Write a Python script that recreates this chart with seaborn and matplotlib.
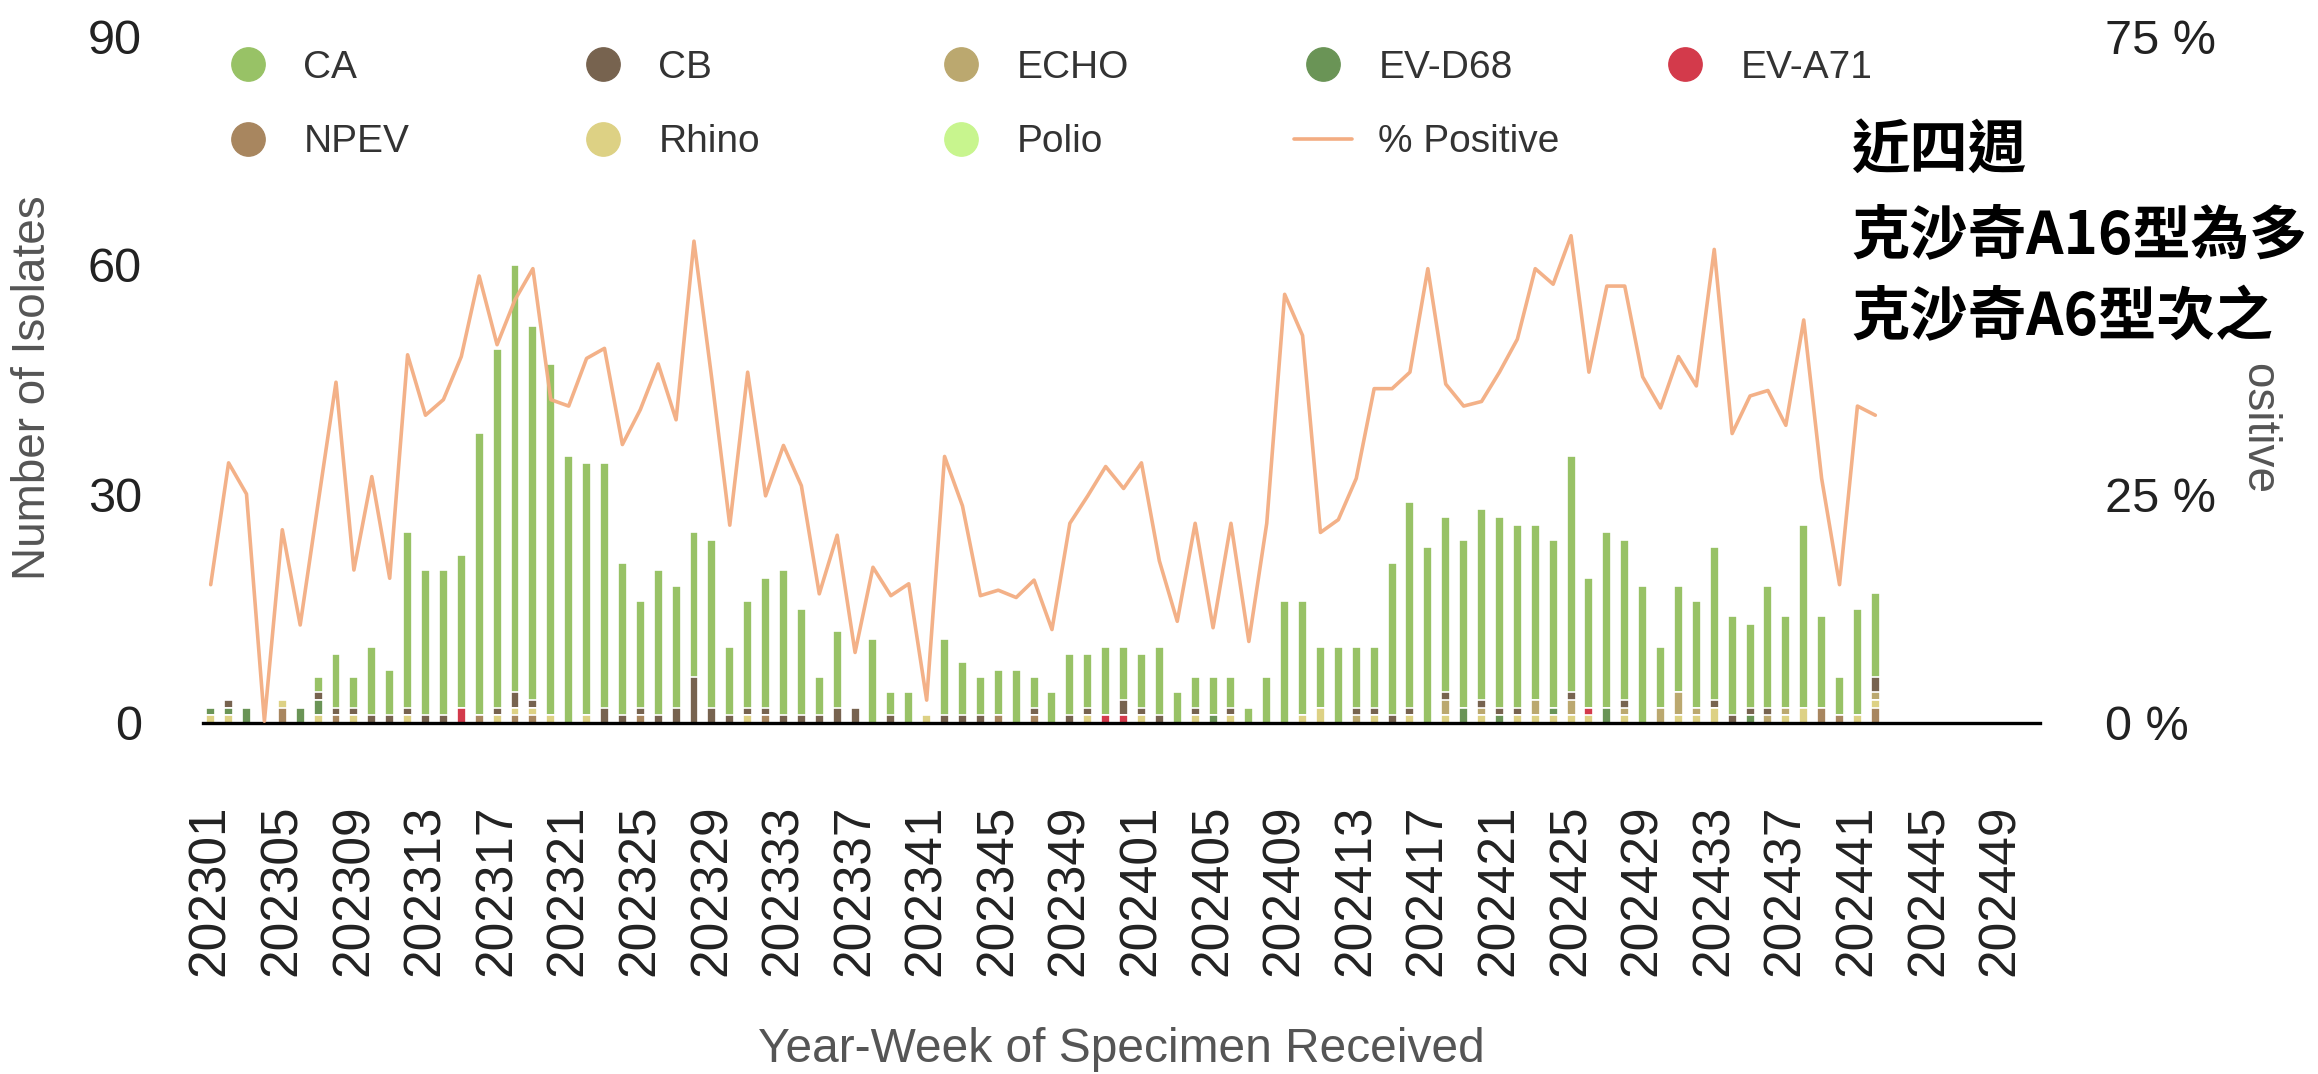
import numpy as np
import pandas as pd
import matplotlib
matplotlib.use("Agg")
import matplotlib.pyplot as plt
from matplotlib.lines import Line2D
from matplotlib.patches import Rectangle
import seaborn as sns

# year-week categories (2023-01 .. 2024-52)
weeks = [f"2023{w:02d}" for w in range(1, 53)] + [f"2024{w:02d}" for w in range(1, 53)]

# isolates per week (202301 .. 202442)
ca = [0, 0, 0, 0, 0, 0, 2, 7, 4, 9,
      6, 23, 19, 19, 20, 37, 47, 56, 49, 46,
      35, 33, 32, 20, 14, 19, 16, 19, 22, 9,
      14, 17, 19, 14, 5, 10, 0, 11, 3, 4,
      0, 10, 7, 5, 6, 7, 4, 4, 8, 7,
      9, 7, 7, 9, 4, 4, 5, 4, 2, 6,
      16, 15, 8, 10, 8, 8, 20, 27, 23, 23,
      22, 25, 25, 24, 23, 22, 31, 17, 23, 21,
      18, 8, 14, 14, 20, 13, 11, 16, 12, 24,
      12, 5, 14, 11]
cb = [0, 1, 0, 0, 0, 0, 1, 1, 1, 1,
      1, 1, 1, 1, 0, 0, 1, 2, 1, 0,
      0, 0, 2, 1, 1, 1, 2, 6, 2, 1,
      1, 1, 1, 1, 1, 2, 2, 0, 1, 0,
      0, 1, 1, 1, 0, 0, 1, 0, 1, 1,
      0, 2, 1, 1, 0, 1, 0, 1, 0, 0,
      0, 0, 0, 0, 1, 1, 1, 1, 0, 1,
      0, 1, 1, 1, 0, 0, 1, 0, 0, 1,
      0, 0, 0, 0, 1, 1, 1, 1, 0, 0,
      0, 0, 0, 2]
echo = [0, 0, 0, 0, 0, 0, 0, 0, 0, 0,
        0, 0, 0, 0, 0, 0, 0, 0, 0, 0,
        0, 0, 0, 0, 0, 0, 0, 0, 0, 0,
        0, 0, 0, 0, 0, 0, 0, 0, 0, 0,
        0, 0, 0, 0, 0, 0, 0, 0, 0, 0,
        0, 0, 0, 0, 0, 0, 0, 0, 0, 0,
        0, 0, 0, 0, 1, 0, 0, 0, 0, 2,
        0, 1, 0, 0, 2, 0, 2, 0, 0, 1,
        0, 2, 3, 1, 0, 0, 0, 1, 1, 0,
        0, 0, 0, 1]
evd68 = [1, 1, 2, 0, 0, 2, 2, 0, 0, 0,
         0, 0, 0, 0, 0, 0, 0, 0, 0, 0,
         0, 0, 0, 0, 0, 0, 0, 0, 0, 0,
         0, 0, 0, 0, 0, 0, 0, 0, 0, 0,
         0, 0, 0, 0, 0, 0, 0, 0, 0, 0,
         0, 0, 0, 0, 0, 0, 1, 0, 0, 0,
         0, 0, 0, 0, 0, 0, 0, 0, 0, 0,
         2, 0, 1, 0, 0, 1, 0, 0, 2, 0,
         0, 0, 0, 0, 0, 0, 1, 0, 0, 0,
         0, 0, 0, 0]
eva71 = [0, 0, 0, 0, 0, 0, 0, 0, 0, 0,
         0, 0, 0, 0, 2, 0, 0, 0, 0, 0,
         0, 0, 0, 0, 0, 0, 0, 0, 0, 0,
         0, 0, 0, 0, 0, 0, 0, 0, 0, 0,
         0, 0, 0, 0, 0, 0, 0, 0, 0, 0,
         1, 1, 0, 0, 0, 0, 0, 0, 0, 0,
         0, 0, 0, 0, 0, 0, 0, 0, 0, 0,
         0, 0, 0, 0, 0, 0, 0, 1, 0, 0,
         0, 0, 0, 0, 0, 0, 0, 0, 0, 0,
         0, 0, 0, 0]
npev = [0, 0, 0, 0, 2, 0, 0, 1, 0, 0,
        0, 0, 0, 0, 0, 1, 0, 1, 1, 0,
        0, 0, 0, 0, 1, 0, 0, 0, 0, 0,
        0, 1, 0, 0, 0, 0, 0, 0, 0, 0,
        0, 0, 0, 0, 1, 0, 1, 0, 0, 0,
        0, 0, 0, 0, 0, 0, 0, 0, 0, 0,
        0, 0, 0, 0, 0, 0, 0, 0, 0, 0,
        0, 0, 0, 0, 0, 0, 0, 0, 0, 0,
        0, 0, 0, 0, 0, 0, 0, 0, 0, 0,
        2, 1, 0, 2]
rhino = [1, 1, 0, 0, 1, 0, 1, 0, 1, 0,
         0, 1, 0, 0, 0, 0, 1, 1, 1, 1,
         0, 1, 0, 0, 0, 0, 0, 0, 0, 0,
         1, 0, 0, 0, 0, 0, 0, 0, 0, 0,
         1, 0, 0, 0, 0, 0, 0, 0, 0, 1,
         0, 0, 1, 0, 0, 1, 0, 1, 0, 0,
         0, 1, 2, 0, 0, 1, 0, 1, 0, 1,
         0, 1, 0, 1, 1, 1, 1, 1, 0, 1,
         0, 0, 1, 1, 2, 0, 0, 0, 1, 2,
         0, 0, 1, 1]
polio = [0] * 94

# % positive
pct_positive = [15.1, 28.4, 25.0, 0.2, 21.1, 10.7, 24.0, 37.2, 16.7, 26.9,
                15.8, 40.2, 33.6, 35.3, 40.0, 48.8, 41.3, 46.2, 49.6, 35.3,
                34.6, 39.8, 40.9, 30.4, 34.2, 39.2, 33.1, 52.6, 37.5, 21.6,
                38.3, 24.8, 30.3, 25.9, 14.1, 20.5, 7.7, 17.0, 13.9, 15.2,
                2.5, 29.1, 23.7, 13.9, 14.5, 13.7, 15.6, 10.2, 21.8, 24.8,
                28.0, 25.6, 28.4, 17.7, 11.1, 21.8, 10.4, 21.8, 8.9, 21.8,
                46.8, 42.3, 20.8, 22.2, 26.7, 36.5, 36.5, 38.3, 49.6, 37.0,
                34.6, 35.1, 38.3, 41.9, 49.6, 47.9, 53.2, 38.3, 47.7, 47.7,
                37.8, 34.4, 40.0, 36.8, 51.7, 31.6, 35.7, 36.3, 32.5, 44.0,
                26.7, 15.1, 34.6, 33.6]

note_lines = ["近四週", "克沙奇A16型為多", "克沙奇A6型次之"]

colors = {
    "CA": "#98c266",
    "CB": "#77634f",
    "ECHO": "#bba86f",
    "EV-D68": "#6a9456",
    "EV-A71": "#d33a4b",
    "NPEV": "#a8865f",
    "Rhino": "#ddd184",
    "Polio": "#c8f58e",
}
line_color = "#f3ad82"

# stacking order, bottom -> top
stack = ["NPEV", "Rhino", "EV-A71", "EV-D68", "ECHO", "CB", "CA", "Polio"]
counts = pd.DataFrame({"NPEV": npev, "Rhino": rhino, "EV-A71": eva71, "EV-D68": evd68,
                       "ECHO": echo, "CB": cb, "CA": ca, "Polio": polio})
counts = counts.reindex(range(len(weeks)), fill_value=0)
counts["week"] = weeks
cum = counts[stack].cumsum(axis=1)

sns.set_style("white")
plt.rcParams["font.family"] = ["Liberation Sans", "DejaVu Sans"]

W, H = 2318, 1074
fig = plt.figure(figsize=(W / 100, H / 100), dpi=100)
ax = fig.add_axes([203 / W, (H - 723) / H, 1837 / W, 687 / H])

for t in reversed(stack):
    sns.barplot(x=counts["week"], y=cum[t], order=weeks, color=colors[t], saturation=1,
                width=0.5, errorbar=None, edgecolor="white", linewidth=1.2, ax=ax)

ax2 = ax.twinx()
sns.lineplot(x=np.arange(len(pct_positive)), y=pct_positive, ax=ax2,
             color=line_color, linewidth=2.6, alpha=0.95)

ax.set_xlim(-0.43, 102.2)
ax.set_ylim(0, 90)
ax2.set_ylim(0, 75)
ax.set_xlabel("")
ax.set_ylabel("")
ax2.set_ylabel("")

ax.set_yticks([0, 30, 60, 90])
ax.set_xticks(range(0, 101, 4))
ax.set_xticklabels(weeks[0:101:4], rotation=90)
ax.tick_params(axis="y", length=0, pad=44, labelsize=35, labelcolor="#222222")
ax.tick_params(axis="x", length=0, pad=59, labelsize=37, labelcolor="#222222")
ax2.set_yticks([0, 25, 75])
ax2.set_yticklabels(["0 %", "25 %", "75 %"])
ax2.tick_params(axis="y", length=0, pad=47, labelsize=35, labelcolor="#222222")

for a in (ax, ax2):
    for s in a.spines.values():
        s.set_visible(False)
ax.spines["bottom"].set_visible(True)
ax.spines["bottom"].set_color("black")
ax.spines["bottom"].set_linewidth(2.4)

# legend, laid out as a 5-column grid
def dot(name):
    return Line2D([0], [0], marker="o", linestyle="none", markersize=24,
                  markerfacecolor=colors[name], markeredgecolor=colors[name], label=name)

legend_cols = [
    [dot("CA"), dot("NPEV")],
    [dot("CB"), dot("Rhino")],
    [dot("ECHO"), dot("Polio")],
    [dot("EV-D68"), Line2D([0], [0], color=line_color, lw=2.6, label="% Positive")],
    [dot("EV-A71")],
]
col_x = [248, 603, 961, 1323, 1685]
for hs, mx in zip(legend_cols, col_x):
    fig.legend(handles=hs, loc="upper left", bbox_to_anchor=((mx - 29) / W, 1 - 50 / H),
               bbox_transform=fig.transFigure, frameon=False, fontsize=28,
               handlelength=1.5, handletextpad=0.67, labelspacing=0.99,
               borderpad=0, borderaxespad=0, labelcolor="#333333")

fig.text(1121 / W, 1 - 1049 / H, "Year-Week of Specimen Received", ha="center", va="center",
         fontsize=34.5, color="#555555")
fig.text(33 / W, 1 - 388 / H, "Number of Isolates", rotation=90, ha="center", va="center",
         fontsize=33, color="#555555")
fig.text(2260 / W, 1 - 385 / H, "% Positive", rotation=270, ha="center", va="center",
         fontsize=33, color="#555555", zorder=3)

# white note box pasted over the top-right corner
fig.add_artist(Rectangle((1833 / W, 1 - 362 / H), (W - 1833) / W, 262 / H,
                         transform=fig.transFigure, facecolor="white", edgecolor="none", zorder=6))
for y, s in zip([151, 236, 318], note_lines):
    fig.text(1851 / W, 1 - y / H, s, family=["Noto Sans CJK TC", "DejaVu Sans"],
             fontweight="bold", fontsize=42, ha="left", va="center", color="black", zorder=7)

fig.savefig("out.png", dpi=100)
